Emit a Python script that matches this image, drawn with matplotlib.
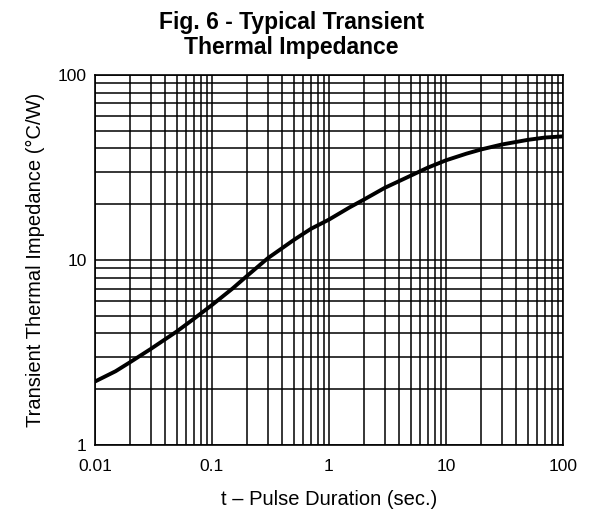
import matplotlib.pyplot as plt
from matplotlib.ticker import LogLocator, NullFormatter

# values
t_sec = [0.01, 0.015, 0.02, 0.03, 0.05, 0.07, 0.1, 0.15, 0.2, 0.3, 0.5, 0.7, 1, 1.5, 2, 3, 5, 7, 10, 15, 20, 30, 50, 70, 100]
z_th = [2.2, 2.5, 2.8, 3.3, 4.1, 4.8, 5.7, 7.0, 8.2, 10.2, 12.8, 14.7, 16.5, 19.2, 21.2, 24.5, 28.5, 31.5, 34.5, 37.5, 39.5, 42.0, 44.5, 45.8, 46.5]
x_ticks = [0.01, 0.1, 1, 10, 100]
x_labels = ['0.01', '0.1', '1', '10', '100']
y_ticks = [1, 10, 100]
y_labels = ['1', '10', '100']

plt.rcParams['font.family'] = ['Liberation Sans', 'DejaVu Sans']

fig = plt.figure(figsize=(5.9, 5.09), dpi=100)
ax = fig.add_axes([0.161, 0.126, 0.793, 0.727])

ax.plot(t_sec, z_th, color='black', lw=2.8, solid_capstyle='round', zorder=3)

ax.set_xscale('log')
ax.set_yscale('log')
ax.set_xlim(0.01, 100)
ax.set_ylim(1, 100)

ax.set_xticks(x_ticks)
ax.set_xticklabels(x_labels)
ax.set_yticks(y_ticks)
ax.set_yticklabels(y_labels)
ax.xaxis.set_minor_locator(LogLocator(base=10, subs=range(2, 10)))
ax.yaxis.set_minor_locator(LogLocator(base=10, subs=range(2, 10)))
ax.xaxis.set_minor_formatter(NullFormatter())
ax.yaxis.set_minor_formatter(NullFormatter())
ax.grid(True, which='both', color='black', lw=1.1)
ax.tick_params(which='both', length=0, labelsize=12.5)
ax.tick_params(axis='x', pad=10)
ax.tick_params(axis='y', pad=6)
for s in ax.spines.values():
    s.set_linewidth(1.2)

ax.set_xlabel('t \u2013 Pulse Duration (sec.)', fontsize=14.5, labelpad=12)
ax.set_ylabel('Transient Thermal Impedance (\u00b0C/W)', fontsize=14.5, labelpad=9)
fig.suptitle('Fig. 6 - Typical Transient\nThermal Impedance', fontsize=16.5, fontweight='bold',
             x=0.494, y=0.978, linespacing=1.1)

fig.savefig('out.png', dpi=100)
